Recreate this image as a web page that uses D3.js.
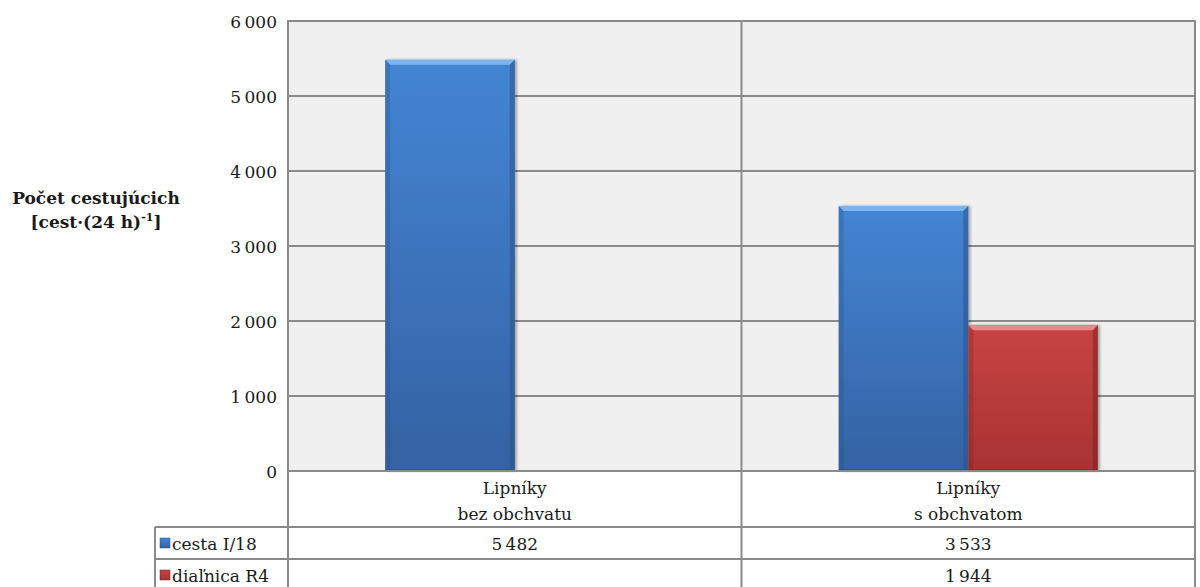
<!DOCTYPE html>
<html>
<head>
<meta charset="utf-8">
<script src="https://cdn.jsdelivr.net/npm/d3@7/dist/d3.min.js"></script>
<style>
  html, body { margin: 0; padding: 0; background: #ffffff; }
  svg { display: block; }
  text { font-family: "DejaVu Serif", "Liberation Serif", serif; fill: #1a1a1a; }
</style>
</head>
<body>
<svg id="chart" width="1200" height="587"></svg>
<script>
// Daily passenger counts through Lipníky, without and with the bypass
const categories = [["Lipníky", "bez obchvatu"], ["Lipníky", "s obchvatom"]];
const seriesNames = ["cesta I/18", "diaľnica R4"];
const cestaValues = [5482, 3533];
const dialnicaValues = [null, 1944];
const yTicks = [0, 1000, 2000, 3000, 4000, 5000, 6000];
const yTitle = ["Počet cestujúcich", "[cest·(24 h)", "-1", "]"];

const series = [
  { name: seriesNames[0], values: cestaValues, key: "blue" },
  { name: seriesNames[1], values: dialnicaValues, key: "red" }
];

const FONT = '"DejaVu Serif", "Liberation Serif", serif';
const FS = 17;

const svg = d3.select("#chart");
const plot = { left: 288, right: 1195, top: 21, bottom: 471 };
const tableRows = [471, 527, 559, 591];
const legendLeft = 155;
const gridColor = "#8a8a8a";

const fmt = v => d3.format(",")(v).replace(/,/g, "\u2009");

const y = d3.scaleLinear().domain([0, 6000]).range([plot.bottom, plot.top]);
const catIdx = categories.map((c, i) => i);
const x0 = d3.scaleBand().domain(catIdx).range([plot.left, plot.right]).padding(0);
const bw = x0.bandwidth();
const x1 = d3.scaleBand().domain(series.map(s => s.name))
  .range([bw * 0.75 / 3.5, bw - bw * 0.75 / 3.5]).padding(0);

// gradients
const defs = svg.append("defs");
const palettes = {
  blue: { top: "#4485d4", bottom: "#3462a3", light: "#8cc0f5", dark: "#2a5088" },
  red:  { top: "#c84444", bottom: "#a83232", light: "#f09a9a", dark: "#7a2020" }
};
Object.entries(palettes).forEach(([k, p]) => {
  const g = defs.append("linearGradient").attr("id", "grad-" + k)
    .attr("x1", 0).attr("y1", 0).attr("x2", 0).attr("y2", 1);
  g.append("stop").attr("offset", "0%").attr("stop-color", p.top);
  g.append("stop").attr("offset", "100%").attr("stop-color", p.bottom);
});
const shadow = defs.append("filter").attr("id", "shadow")
  .attr("x", "-10%").attr("y", "-10%").attr("width", "130%").attr("height", "120%");
shadow.append("feGaussianBlur").attr("in", "SourceAlpha").attr("stdDeviation", 1.5);
shadow.append("feOffset").attr("dx", 2).attr("dy", 0).attr("result", "b");
shadow.append("feComponentTransfer").append("feFuncA").attr("type", "linear").attr("slope", 0.35);
const merge = shadow.append("feMerge");
merge.append("feMergeNode");
merge.append("feMergeNode").attr("in", "SourceGraphic");

// plot background
svg.append("rect")
  .attr("x", plot.left).attr("y", plot.top)
  .attr("width", plot.right - plot.left).attr("height", plot.bottom - plot.top)
  .attr("fill", "#f0f0f0");

// gridlines
svg.append("g").selectAll("line").data(yTicks.filter(t => t > 0 && t < 6000)).join("line")
  .attr("x1", plot.left).attr("x2", plot.right)
  .attr("y1", d => y(d)).attr("y2", d => y(d))
  .attr("stroke", gridColor).attr("stroke-width", 2);

// y axis labels
const yAxis = d3.axisLeft(y).tickValues(yTicks).tickFormat(fmt).tickSize(0).tickPadding(11);
const ya = svg.append("g").attr("transform", `translate(${plot.left},0)`).call(yAxis);
ya.attr("font-family", FONT).attr("font-size", FS);
ya.select(".domain").remove();
ya.selectAll("text").attr("fill", "#1a1a1a").attr("dy", "0.4em");

// bars
const bars = svg.append("g");
series.forEach(s => {
  const p = palettes[s.key];
  s.values.forEach((v, i) => {
    if (v == null) return;
    const bx = x0(i) + x1(s.name);
    const w = x1.bandwidth();
    const by = y(v);
    const h = y(0) - by;
    const g = bars.append("g");
    g.append("rect").attr("x", bx).attr("y", by).attr("width", w).attr("height", h)
      .attr("fill", `url(#grad-${s.key})`).attr("filter", "url(#shadow)");
    const b = 5;
    // bevel: light top, darker sides
    g.append("path")
      .attr("d", `M${bx},${by}L${bx + w},${by}L${bx + w - b},${by + b}L${bx + b},${by + b}Z`)
      .attr("fill", p.light).attr("opacity", 0.8);
    g.append("path")
      .attr("d", `M${bx},${by}L${bx + b},${by + b}L${bx + b},${by + h}L${bx},${by + h}Z`)
      .attr("fill", p.dark).attr("opacity", 0.3);
    g.append("path")
      .attr("d", `M${bx + w},${by}L${bx + w - b},${by + b}L${bx + w - b},${by + h}L${bx + w},${by + h}Z`)
      .attr("fill", p.dark).attr("opacity", 0.5);
    g.append("rect").attr("x", bx).attr("y", y(0) - 2).attr("width", w).attr("height", 2)
      .attr("fill", p.dark).attr("opacity", 0.5);
  });
});

// plot frame and category divider
const frame = svg.append("g").attr("stroke", gridColor).attr("stroke-width", 2).attr("fill", "none");
frame.append("rect")
  .attr("x", plot.left).attr("y", plot.top)
  .attr("width", plot.right - plot.left).attr("height", plot.bottom - plot.top);
frame.append("line").attr("x1", x0(1)).attr("x2", x0(1))
  .attr("y1", plot.top).attr("y2", tableRows[3]);

// data table lines
frame.append("line").attr("x1", plot.left).attr("x2", plot.left).attr("y1", plot.bottom).attr("y2", tableRows[3]);
frame.append("line").attr("x1", plot.right).attr("x2", plot.right).attr("y1", plot.bottom).attr("y2", tableRows[3]);
frame.append("line").attr("x1", legendLeft).attr("x2", legendLeft).attr("y1", tableRows[1]).attr("y2", tableRows[3]);
[tableRows[1], tableRows[2]].forEach(ry => {
  frame.append("line").attr("x1", legendLeft).attr("x2", plot.right).attr("y1", ry).attr("y2", ry);
});

// category labels
const catG = svg.append("g");
categories.forEach((lines, i) => {
  const t = catG.append("text").attr("text-anchor", "middle").attr("font-size", FS)
    .attr("x", x0(i) + bw / 2).attr("y", 494);
  lines.forEach((ln, k) => t.append("tspan").attr("x", x0(i) + bw / 2).attr("dy", k ? 26 : 0).text(ln));
});

// series rows: legend keys, names and values
series.forEach((s, r) => {
  const cy = (tableRows[r + 1] + tableRows[r + 2]) / 2;
  const p = palettes[s.key];
  svg.append("rect").attr("x", 160).attr("y", cy - 5).attr("width", 10).attr("height", 10)
    .attr("fill", `url(#grad-${s.key})`).attr("stroke", p.dark).attr("stroke-width", 0.5);
  svg.append("text").attr("x", 172).attr("y", cy + 7).attr("font-size", FS).text(s.name);
  s.values.forEach((v, i) => {
    if (v == null) return;
    svg.append("text").attr("text-anchor", "middle").attr("font-size", FS)
      .attr("x", x0(i) + bw / 2).attr("y", cy + 7).text(fmt(v));
  });
});

// y axis title
const tt = svg.append("text").attr("text-anchor", "middle").attr("font-weight", "bold")
  .attr("font-size", FS).attr("x", 96).attr("y", 204);
tt.append("tspan").attr("x", 96).text(yTitle[0]);
const t2 = svg.append("text").attr("text-anchor", "middle").attr("font-weight", "bold")
  .attr("font-size", FS).attr("x", 96).attr("y", 228);
t2.append("tspan").text(yTitle[1]);
t2.append("tspan").attr("font-size", 11).attr("dy", -7).text(yTitle[2]);
t2.append("tspan").attr("dy", 7).text(yTitle[3]);
</script>
</body>
</html>
